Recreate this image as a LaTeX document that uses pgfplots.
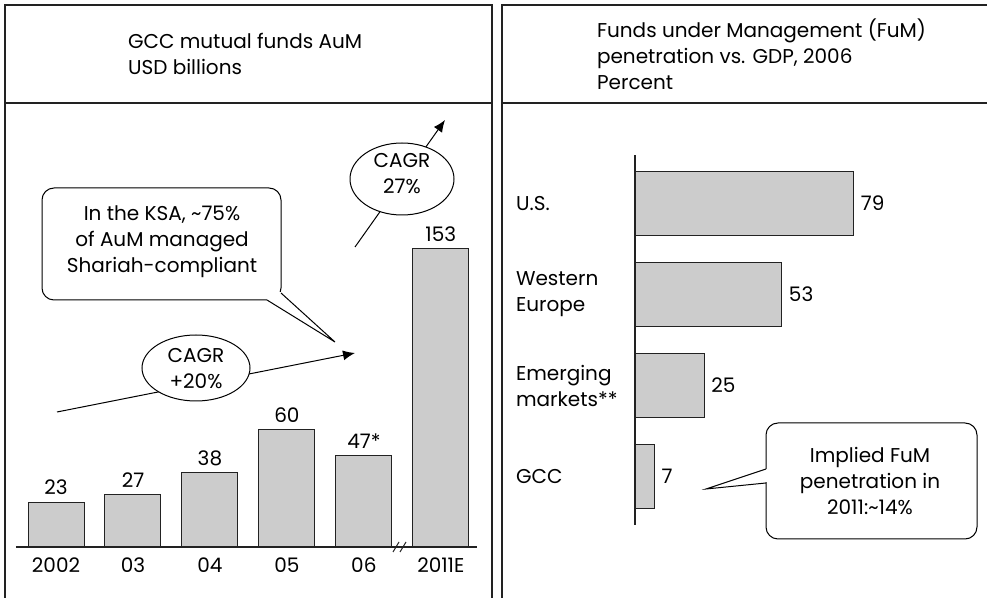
\documentclass[border=0pt]{standalone}
\usepackage{fontspec}
\setmainfont{Poppins}
\usepackage{pgfplots}
\pgfplotsset{compat=1.18}
\usetikzlibrary{arrows.meta}
\definecolor{barfill}{HTML}{CCCCCC}
\definecolor{edge}{HTML}{222222}

\begin{document}
\begin{tikzpicture}[font=\fontsize{10}{13}\selectfont]
\begin{scope}[x=0.5pt,y=-0.5pt]
\useasboundingbox (0,0) rectangle (987,598);
% panel frames
\draw[edge, line width=0.6pt] (5,598) -- (5,5) -- (492,5) -- (492,598);
\draw[edge, line width=0.6pt] (5,103) -- (492,103);
\draw[edge, line width=0.6pt] (502,598) -- (502,5) -- (987,5);
\draw[edge, line width=0.6pt] (502,103) -- (987,103);
% headers
\node[anchor=west, align=left] at (121,54) {GCC mutual funds AuM\\USD billions};
\node[anchor=west, align=left] at (590,54) {Funds under Management (FuM)\\penetration vs. GDP, 2006\\Percent};
\end{scope}

% left: AuM bars
\begin{axis}[
    at={(8pt,-273.5pt)}, anchor=south west,
    scale only axis, width=230.5pt, height=156pt,
    xmin=-0.52, xmax=5.47, ymin=0, ymax=160,
    axis x line=bottom, axis y line=none,
    axis line style={-, edge, line width=0.6pt},
    xtick={0,1,2,3,4,5},
    xticklabels={2002,03,04,05,06,2011E},
    xticklabel style={yshift=-2pt},
    major tick length=0, ytick=\empty,
    ybar, bar width=28pt, bar shift=0pt,
    nodes near coords, point meta=explicit symbolic,
    every node near coord/.append style={text=black},
    clip=false,
]
\addplot[fill=barfill, draw=edge, line width=0.5pt] coordinates {
(0,23) [23]
(1,27) [27]
(2,38) [38]
(3,60) [60]
(4,47) [47*]
(5,153) [153]
};
\end{axis}

% right: FuM penetration bars
\begin{axis}[
    at={(317.5pt,-262.5pt)}, anchor=south west,
    scale only axis, width=138.5pt, height=185pt,
    xmin=0, xmax=100, ymin=-0.53, ymax=3.53,
    axis y line=left, axis x line=none,
    axis line style={-, edge, line width=0.6pt},
    ytick={0,1,2,3},
    yticklabels={GCC,{Emerging\\markets**},{Western\\Europe},U.S.},
    yticklabel style={anchor=west, align=left, xshift=-63pt},
    major tick length=0, xtick=\empty,
    xbar, bar width=32pt, bar shift=0pt,
    nodes near coords, point meta=explicit symbolic,
    every node near coord/.append style={text=black, anchor=west},
    clip=false,
]
\addplot[fill=barfill, draw=edge, line width=0.5pt] coordinates {
(7,0) [7]
(25,1) [25]
(53,2) [53]
(79,3) [79]
};
\end{axis}

\begin{scope}[x=0.5pt,y=-0.5pt]
% axis break
\draw[edge, line width=0.5pt] (393,552) -- (399,542);
\draw[edge, line width=0.5pt] (400,552) -- (406,542);
% CAGR +20%
\draw[-{Latex[length=6pt,width=5pt]}, line width=0.5pt] (57,412) -- (355,353);
\draw[fill=white, line width=0.5pt] (196,368) ellipse [x radius=54, y radius=33];
\node[align=center] at (196,369) {CAGR\\+20\%};
% CAGR 27%
\draw[-{Latex[length=6pt,width=5pt]}, line width=0.5pt] (355,247) -- (445,120);
\draw[fill=white, line width=0.5pt] (402,179) ellipse [x radius=52, y radius=36];
\node[align=center] at (402,174) {CAGR\\27\%};
% KSA callout
\draw[fill=white, line width=0.5pt, rounded corners=6] (42,188) rectangle (281,300);
\fill[white] (266.5,292.5) rectangle (282,301.5);
\draw[line width=0.5pt] (267,300) -- (335,342) -- (281,293);
\node[align=center] at (162,242) {In the KSA, \textasciitilde75\%\\of AuM managed\\Shariah-compliant};
% FuM callout
\draw[fill=white, line width=0.5pt, rounded corners=6] (766,423) rectangle (977,539);
\fill[white] (764.5,469.5) rectangle (767.5,482.5);
\draw[line width=0.5pt] (766,469) -- (706,489) -- (766,483);
\node[align=center] at (870,481) {Implied FuM\\penetration in\\2011:\textasciitilde14\%};
\end{scope}
\end{tikzpicture}
\end{document}
